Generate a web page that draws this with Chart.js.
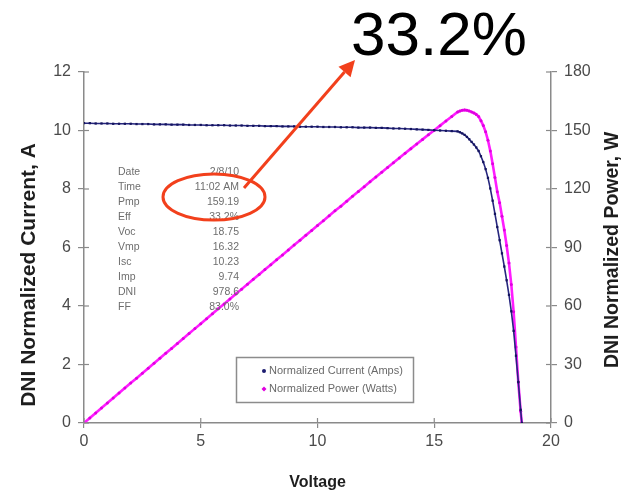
<!DOCTYPE html>
<html><head><meta charset="utf-8">
<script src="https://cdn.jsdelivr.net/npm/chart.js@4/dist/chart.umd.min.js"></script>
<style>html,body{margin:0;padding:0;background:#fff;}#wrap{width:628px;height:493px;}</style>
</head><body><div id="wrap"><canvas id="c" width="628" height="493"></canvas></div>
<script>
const voltage = [
  0,0.25,0.5,0.75,1,1.25,1.5,1.75,2,2.25,2.5,2.75,3,3.25,3.5,3.75,
  4,4.25,4.5,4.75,5,5.25,5.5,5.75,6,6.25,6.5,6.75,7,7.25,7.5,7.75,
  8,8.25,8.5,8.75,9,9.25,9.5,9.75,10,10.25,10.5,10.75,11,11.25,11.5,11.75,
  12,12.25,12.5,12.75,13,13.25,13.5,13.75,14,14.25,14.5,14.75,15,15.25,15.5,15.75,
  16.0,16.1,16.2,16.3,16.4,16.5,16.6,16.7,16.8,16.9,
  17.0,17.1,17.2,17.3,17.4,17.5,17.6,17.7,17.8,17.9,
  18.0,18.1,18.2,18.3,18.4,18.5,18.6,18.7,18.75
];
const current = [
  10.25,10.25,10.24,10.24,10.24,10.23,10.23,10.23,10.23,10.22,10.22,10.22,10.21,10.21,10.21,10.20,
  10.20,10.20,10.19,10.19,10.19,10.18,10.18,10.18,10.18,10.17,10.17,10.17,10.16,10.16,10.16,10.15,
  10.15,10.15,10.14,10.14,10.14,10.13,10.13,10.13,10.13,10.12,10.12,10.12,10.11,10.11,10.11,10.10,
  10.10,10.10,10.09,10.09,10.08,10.07,10.07,10.06,10.05,10.04,10.03,10.02,10.01,10.00,9.99,9.98,
  9.97,9.94,9.90,9.85,9.78,9.70,9.61,9.52,9.42,9.30,
  9.12,8.92,8.68,8.38,8.02,7.60,7.15,6.70,6.25,5.80,
  5.35,4.88,4.38,3.82,3.15,2.30,1.40,0.45,0
];
const power = [
  0,2.56,5.12,7.68,10.24,12.79,15.35,17.90,20.46,23.00,25.55,28.11,30.63,33.18,35.74,38.25,
  40.80,43.35,45.86,48.40,50.95,53.45,55.99,58.54,61.08,63.56,66.11,68.65,71.12,73.66,76.20,78.66,
  81.20,83.74,86.19,88.73,91.26,93.70,96.24,98.77,101.30,103.73,106.26,108.79,111.21,113.74,116.27,118.68,
  121.20,123.73,126.13,128.65,131.04,133.43,135.95,138.33,140.70,143.07,145.44,147.80,150.15,152.50,154.85,157.19,
  159.52,160.03,160.38,160.56,160.39,160.05,159.53,158.98,158.26,157.17,
  155.04,152.53,149.30,145.00,139.55,133.00,125.84,118.59,113.00,106.00,
  99.00,91.00,82.00,71.00,57.00,39.00,21.00,6.00,0
];
const seriesNames = ['Normalized Current (Amps)', 'Normalized Power (Watts)'];
const statLabels = ['Date','Time','Pmp','Eff','Voc','Vmp','Isc','Imp','DNI','FF'];
const statValues = ['2/8/10','11:02 AM','159.19','33.2%','18.75','16.32','10.23','9.74','978.6','83.0%'];
const headline = '33.2%';
const leftTitle = 'DNI Normalized Current, A';
const rightTitle = 'DNI Normalized Power, W';
const xTitle = 'Voltage';

const FONT = '"Liberation Sans", Arial, sans-serif';
const AXIS = '#8a8a8a';
const RED = '#f2401c';

const currentPts = voltage.map((v, i) => ({x: v, y: current[i]}));
const powerPts = voltage.map((v, i) => ({x: v, y: power[i]}));

const extras = {
  id: 'extras',
  afterDraw(chart) {
    const ctx = chart.ctx;
    const sx = chart.scales.x, sy = chart.scales.y, sy1 = chart.scales.y1;
    const ca = chart.chartArea;
    ctx.save();
    // inner tick marks
    ctx.strokeStyle = AXIS; ctx.lineWidth = 1.2;
    sx.ticks.forEach(t => { const p = sx.getPixelForValue(t.value); ctx.beginPath(); ctx.moveTo(p, ca.bottom); ctx.lineTo(p, ca.bottom - 5); ctx.stroke(); });
    sy.ticks.forEach(t => { const p = sy.getPixelForValue(t.value); ctx.beginPath(); ctx.moveTo(ca.left, p); ctx.lineTo(ca.left + 5, p); ctx.stroke(); });
    sy1.ticks.forEach(t => { const p = sy1.getPixelForValue(t.value); ctx.beginPath(); ctx.moveTo(ca.right, p); ctx.lineTo(ca.right - 5, p); ctx.stroke(); });

    // vertical axis titles
    ctx.fillStyle = '#1e1e1e';
    ctx.textAlign = 'center'; ctx.textBaseline = 'middle';
    ctx.save(); ctx.translate(29, 275); ctx.rotate(-Math.PI / 2);
    ctx.font = 'bold 21px ' + FONT; ctx.fillText(leftTitle, 0, 0); ctx.restore();
    ctx.save(); ctx.translate(613, 250); ctx.rotate(-Math.PI / 2);
    ctx.font = 'bold 19.5px ' + FONT; ctx.fillText(rightTitle, 0, 0); ctx.restore();

    // stats table
    ctx.font = '10.5px ' + FONT; ctx.fillStyle = '#6e6e6e';
    statLabels.forEach((l, i) => {
      const y = 172 + i * 15;
      ctx.textAlign = 'left'; ctx.fillText(l, 118, y);
      ctx.textAlign = 'right'; ctx.fillText(statValues[i], 239, y);
    });

    // legend box
    ctx.strokeStyle = '#8c8c8c'; ctx.lineWidth = 1.5;
    ctx.strokeRect(236.5, 357.5, 177, 45);
    ctx.font = '11px ' + FONT; ctx.fillStyle = '#6a6a6a'; ctx.textAlign = 'left';
    ctx.fillText(seriesNames[0], 269, 371);
    ctx.fillText(seriesNames[1], 269, 389);
    ctx.fillStyle = '#1c1c70'; ctx.beginPath(); ctx.arc(264, 371, 2, 0, Math.PI * 2); ctx.fill();
    ctx.fillStyle = '#e000e0'; ctx.beginPath(); ctx.moveTo(264, 386.5); ctx.lineTo(266.5, 389); ctx.lineTo(264, 391.5); ctx.lineTo(261.5, 389); ctx.closePath(); ctx.fill();

    // red ellipse
    ctx.strokeStyle = RED; ctx.lineWidth = 3;
    ctx.beginPath(); ctx.ellipse(214, 197, 51, 23, 0, 0, Math.PI * 2); ctx.stroke();
    // arrow
    const x1 = 244, y1 = 188, x2 = 355, y2 = 60;
    const ang = Math.atan2(y2 - y1, x2 - x1);
    const hl = 16, hw = 8;
    const bx = x2 - hl * Math.cos(ang), by = y2 - hl * Math.sin(ang);
    ctx.beginPath(); ctx.moveTo(x1, y1); ctx.lineTo(bx, by); ctx.stroke();
    ctx.fillStyle = RED; ctx.beginPath();
    ctx.moveTo(x2, y2);
    ctx.lineTo(bx + hw * Math.sin(ang), by - hw * Math.cos(ang));
    ctx.lineTo(bx - hw * Math.sin(ang), by + hw * Math.cos(ang));
    ctx.closePath(); ctx.fill();

    // headline
    ctx.fillStyle = '#000'; ctx.font = '62px ' + FONT; ctx.textAlign = 'left'; ctx.textBaseline = 'alphabetic';
    ctx.fillText(headline, 351, 55);
    ctx.restore();
  }
};

const tickFont = {family: FONT, size: 16};
new Chart(document.getElementById('c'), {
  type: 'scatter',
  data: {
    datasets: [
      {label: seriesNames[0], data: currentPts, yAxisID: 'y', showLine: true,
       borderColor: '#26267e', borderWidth: 1.6, backgroundColor: '#14145e',
       pointRadius: 1.6, pointBorderWidth: 0, pointStyle: 'rect', order: 1},
      {label: seriesNames[1], data: powerPts, yAxisID: 'y1', showLine: true,
       borderColor: '#ff1cff', borderWidth: 2.6, backgroundColor: '#e000e0',
       pointRadius: 1.5, pointBorderWidth: 0, order: 2}
    ]
  },
  options: {
    responsive: false, animation: false, devicePixelRatio: 1,
    layout: {padding: {top: 72, left: 0, right: 0, bottom: 0}},
    plugins: {legend: {display: false}, tooltip: {enabled: false}},
    scales: {
      x: {type: 'linear', min: 0, max: 20,
          ticks: {stepSize: 5, font: tickFont, color: '#4a4a4a', padding: 4, maxRotation: 0},
          grid: {drawOnChartArea: false, drawTicks: true, tickLength: 5, color: AXIS, lineWidth: 1.2},
          border: {color: AXIS, width: 1.5},
          title: {display: true, text: xTitle, font: {family: FONT, size: 16, weight: 'bold'}, color: '#1e1e1e', padding: {top: 0, bottom: 1}},
          afterFit: s => { s.height = 70; }},
      y: {type: 'linear', position: 'left', min: 0, max: 12,
          ticks: {stepSize: 2, font: tickFont, color: '#4a4a4a', padding: 7},
          grid: {drawOnChartArea: false, drawTicks: true, tickLength: 6, color: AXIS, lineWidth: 1.2},
          border: {color: AXIS, width: 1.5},
          afterFit: s => { s.width = 84; }},
      y1: {type: 'linear', position: 'right', min: 0, max: 180,
          ticks: {stepSize: 30, font: tickFont, color: '#4a4a4a', padding: 7},
          grid: {drawOnChartArea: false, drawTicks: true, tickLength: 6, color: AXIS, lineWidth: 1.2},
          border: {color: AXIS, width: 1.5},
          afterFit: s => { s.width = 77; }}
    }
  },
  plugins: [extras]
});
</script></body></html>
